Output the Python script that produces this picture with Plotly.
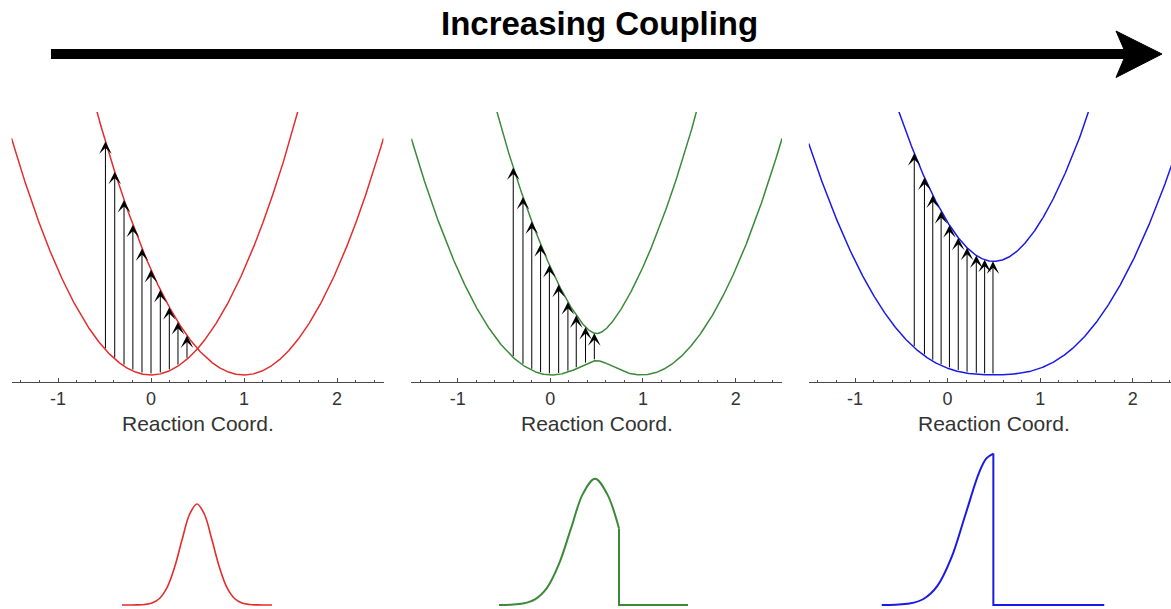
import numpy as np
import plotly.graph_objects as go

# ---------------- data ----------------
title_text = "Increasing Coupling"
x_label = "Reaction Coord."
centers = [0.0, 1.0]                 # minima of the two diabatic parabolas
couplings = [0.0, 0.13, 0.62]        # electronic coupling of the three panels
e_top = 2.5                          # top of the energy window
colors = ["rgb(228,44,44)", "rgb(58,138,58)", "rgb(26,26,232)"]

arrow_x_1 = [-0.49, -0.39, -0.29, -0.195, -0.097, 0.0, 0.10, 0.197, 0.29, 0.387]
arrow_x_2 = [-0.40, -0.295, -0.20, -0.105, -0.01, 0.09, 0.19, 0.28, 0.38, 0.475]
arrow_x_3 = [-0.36, -0.25, -0.16, -0.07, 0.02, 0.115, 0.21, 0.31, 0.40, 0.49]
arrow_xs = [arrow_x_1, arrow_x_2, arrow_x_3]

tick_vals = [-1, 0, 1, 2]
tick_text = ["-1", "0", "1", "2"]

# absorption line shapes (energy in arbitrary units, intensity relative)
red_E = [-10, -9, -8, -7, -6, -5, -4, -3, -2, -1, 0, 1, 2, 3, 4, 5, 6, 7, 8, 9, 10]
red_I = [0, 0, 0.001, 0.005, 0.019, 0.064, 0.171, 0.371, 0.643, 0.896, 1.0,
         0.896, 0.643, 0.371, 0.171, 0.064, 0.019, 0.005, 0.001, 0, 0]
green_E = [-16, -14, -12, -10, -8, -6, -4, -2, 0, 2, 4]
green_I = [0, 0.003, 0.014, 0.055, 0.169, 0.406, 0.758, 1.103, 1.25, 1.103, 0.758]
green_tail_E = [4, 4, 15.5]
green_tail_I = [0.758, 0, 0]
blue_E = [-16, -14, -12, -10, -8, -6, -4, -2, -1, 0]
blue_I = [0, 0.003, 0.014, 0.059, 0.189, 0.468, 0.894, 1.318, 1.452, 1.5]
blue_tail_E = [0, 0, 15.9]
blue_tail_I = [1.5, 0, 0]

# ---------------- layout geometry ----------------
W, H = 1171, 609
def px(v): return v / W
def py(v): return 1 - v / H

panel_x_domains = [[px(11.5), px(383.5)], [px(411.3), px(782.0)], [px(808.7), 1.0]]
panel_x_ranges = [[-1.5, 2.5], [-1.5, 2.5], [-1.5, (1171 - 947.6) / 92.6]]
panel_y_domain = [py(382.3), py(112)]

axis_color = "#4a4a4a"
text_color = "#333333"
font_family = "Liberation Sans, Arial, sans-serif"

fig = go.Figure()
xs = np.linspace(-1.5, 2.5, 1601)

def surfaces(x, c):
    v1 = (x - centers[0]) ** 2
    v2 = (x - centers[1]) ** 2
    mean = (v1 + v2) / 2
    root = np.sqrt(((v1 - v2) / 2) ** 2 + c ** 2)
    return v1, v2, mean - root, mean + root

annotations = []
for k, c in enumerate(couplings, start=1):
    v1, v2, lo, hi = surfaces(xs, c)
    if c == 0:
        curves = [v1, v2]
    else:
        curves = [lo, hi]
    for cv in curves:
        fig.add_trace(go.Scatter(x=xs, y=cv, mode="lines",
                                 line=dict(color=colors[k - 1], width=1.5),
                                 xaxis=f"x{k}", yaxis=f"y{k}",
                                 showlegend=False, hoverinfo="skip"))
    e_min = float(lo.min())
    pad = 0.0278 * (e_top - e_min)
    fig.update_layout({
        f"xaxis{k}": dict(domain=panel_x_domains[k - 1], range=panel_x_ranges[k - 1],
                          anchor=f"y{k}", showgrid=False, zeroline=False,
                          showline=True, linecolor=axis_color, linewidth=1.3,
                          ticks="inside", ticklen=4, tickwidth=1, tickcolor=axis_color,
                          tickvals=tick_vals, ticktext=tick_text,
                          tickfont=dict(family=font_family, size=18, color=text_color),
                          ticklabelstandoff=0,
                          minor=dict(dtick=0.2, tick0=0, ticks="inside", ticklen=2.5,
                                     tickwidth=1, tickcolor=axis_color)),
        f"yaxis{k}": dict(domain=panel_y_domain, range=[e_min - pad, e_top],
                          anchor=f"x{k}", visible=False),
    })
    # vertical transition arrows
    for xa in arrow_xs[k - 1]:
        _, _, l_a, h_a = surfaces(np.array([xa]), c)
        annotations.append(dict(x=xa, y=float(h_a[0]), ax=xa, ay=float(l_a[0]),
                                xref=f"x{k}", yref=f"y{k}", axref=f"x{k}", ayref=f"y{k}",
                                text="", showarrow=True, arrowhead=3, arrowsize=2.1,
                                arrowwidth=1, arrowcolor="black", standoff=0))
    annotations.append(dict(x=0.5, xref=f"x{k}", y=py(423), yref="paper",
                            text=x_label, showarrow=False, xanchor="center",
                            yanchor="middle",
                            font=dict(family=font_family, size=21, color=text_color)))

# ---------------- spectra ----------------
spec_y_domain = [py(608.0), py(450.5)]
spec_y_range = [-0.03, 1.53]
spectra = [
    (4, red_E, red_I, None, None, [-10, 10], [px(122), px(272)], 1.6),
    (5, green_E, green_I, green_tail_E, green_tail_I, [-16, 15.5], [px(499), px(688)], 2),
    (6, blue_E, blue_I, blue_tail_E, blue_tail_I, [-16, 15.9], [px(881.5), px(1104.5)], 2),
]
for i, (k, E, I, tE, tI, xr, dom, lw) in enumerate(spectra):
    col = colors[i]
    fig.add_trace(go.Scatter(x=E, y=I, mode="lines",
                             line=dict(color=col, width=lw, shape="spline", smoothing=1.0),
                             xaxis=f"x{k}", yaxis=f"y{k}", showlegend=False,
                             hoverinfo="skip"))
    if tE is not None:
        fig.add_trace(go.Scatter(x=tE, y=tI, mode="lines",
                                 line=dict(color=col, width=lw),
                                 xaxis=f"x{k}", yaxis=f"y{k}", showlegend=False,
                                 hoverinfo="skip"))
    fig.update_layout({
        f"xaxis{k}": dict(domain=dom, range=xr, anchor=f"y{k}", visible=False),
        f"yaxis{k}": dict(domain=spec_y_domain, range=spec_y_range, anchor=f"x{k}",
                          visible=False),
    })

# ---------------- big arrow and title ----------------
shapes = [
    dict(type="line", xref="paper", yref="paper", x0=px(51), x1=px(1128),
         y0=py(54), y1=py(54), line=dict(color="black", width=10)),
    dict(type="path", xref="paper", yref="paper",
         path=(f"M {px(1162)},{py(54)} L {px(1116)},{py(31)} "
               f"L {px(1126)},{py(54)} L {px(1116)},{py(77.5)} Z"),
         fillcolor="black", line=dict(color="black", width=1)),
]
annotations.append(dict(x=px(600), y=py(24), xref="paper", yref="paper",
                        text="<b>" + title_text + "</b>", showarrow=False,
                        xanchor="center", yanchor="middle",
                        font=dict(family=font_family, size=33, color="black")))

fig.update_layout(width=W, height=H, margin=dict(l=0, r=0, t=0, b=0),
                  paper_bgcolor="white", plot_bgcolor="white",
                  shapes=shapes, annotations=annotations, showlegend=False)

fig.write_html("out.html", config={"displayModeBar": False},
               post_script="document.body.style.margin='0px';"
                           "document.body.style.overflow='hidden';")
